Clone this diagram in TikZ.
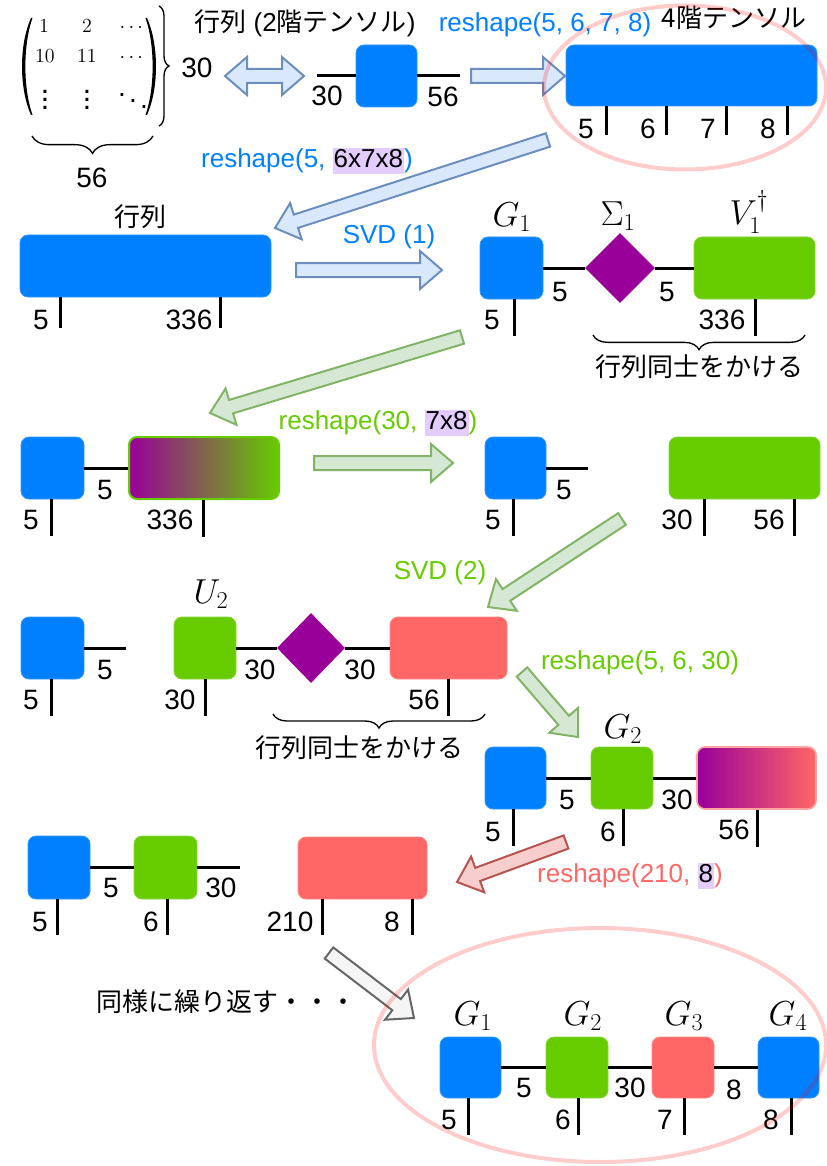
\RequirePackage{fix-cm}
\documentclass[tikz,border=0pt]{standalone}
\usepackage{amsmath}
\usepackage{graphicx}
\usepackage[no-math]{fontspec}
\setmainfont{Liberation Sans}
\newfontfamily\jp{Noto Sans CJK JP}
\usetikzlibrary{shapes.geometric,calc,decorations.pathreplacing}
\definecolor{cblue}{HTML}{007FFF}
\definecolor{cgreen}{HTML}{66CC00}
\definecolor{cred}{HTML}{FF6666}
\definecolor{cpur}{HTML}{990099}
\definecolor{lav}{HTML}{E5CCFF}
\definecolor{abf}{HTML}{DAE8FC}\definecolor{abd}{HTML}{6C8EBF}
\definecolor{agf}{HTML}{D5E8D4}\definecolor{agd}{HTML}{82B366}
\definecolor{arf}{HTML}{F8CECC}\definecolor{ard}{HTML}{B85450}
\definecolor{akf}{HTML}{F5F5F5}\definecolor{akd}{HTML}{666666}
\newcommand\hl[1]{{\setlength\fboxsep{0.8pt}\colorbox{lav}{\textcolor{black}{#1}\vphantom{()}}}}
% fat arrow: style, start, end
\newcommand\fatarrow[3]{%
  \coordinate (fa-b) at ($(#3)!16.5pt!(#2)$);
  \draw[#1] ($(#2)!5.25pt!90:(#3)$) -- ($(fa-b)!5.25pt!-90:(#2)$) -- ($(fa-b)!14.25pt!-90:(#2)$)
    -- (#3) -- ($(fa-b)!14.25pt!90:(#2)$) -- ($(fa-b)!5.25pt!90:(#2)$) -- ($(#2)!5.25pt!-90:(#3)$) -- cycle;}
\newcommand\fatdarrow[3]{%
  \coordinate (fa-b1) at ($(#2)!16.5pt!(#3)$);
  \coordinate (fa-b2) at ($(#3)!16.5pt!(#2)$);
  \draw[#1] (#2) -- ($(fa-b1)!14.25pt!90:(#3)$) -- ($(fa-b1)!5.25pt!90:(#3)$) -- ($(fa-b2)!5.25pt!-90:(#2)$)
    -- ($(fa-b2)!14.25pt!-90:(#2)$) -- (#3) -- ($(fa-b2)!14.25pt!90:(#2)$) -- ($(fa-b2)!5.25pt!90:(#2)$)
    -- ($(fa-b1)!5.25pt!-90:(#3)$) -- ($(fa-b1)!14.25pt!-90:(#3)$) -- cycle;}
\tikzset{
  rb/.style={rectangle, rounded corners=6pt, inner sep=0pt, draw=#1!80!white, line width=0.6pt, fill=#1},
  grad/.style 2 args={rectangle, rounded corners=6pt, inner sep=0pt, left color=#1, right color=#2},
  sz/.style 2 args={minimum width=#1*0.75pt, minimum height=#2*0.75pt},
  dia/.style={diamond, inner sep=0pt, fill=cpur},
  bond/.style={line width=2.25pt, black},
  num/.style={inner sep=0pt, font=\fontsize{21}{24}\selectfont},
  lbl/.style={inner sep=0pt, font=\fontsize{19.5}{23}\selectfont},
  jpl/.style={inner sep=0pt, font=\fontsize{19.5}{23}\selectfont\jp},
  mth/.style={inner sep=0pt, font=\fontsize{26}{30}\selectfont},
  mtx/.style={inner sep=0pt, anchor=base, font=\fontsize{15}{18}\selectfont},
  ring/.style={draw=red, draw opacity=0.2, line width=3pt},
  brc/.style={decorate, decoration={brace, amplitude=#1}, line width=1pt},
  brc/.default=8pt,
  ablue/.style={fill=abf, draw=abd, line width=1.5pt},
  agreen/.style={fill=agf, draw=agd, line width=1.5pt},
  ared/.style={fill=arf, draw=ard, line width=1.5pt},
  agray/.style={fill=akf, draw=akd, line width=1.5pt},
}
\begin{document}
\begin{tikzpicture}[x=0.75pt,y=-0.75pt]
\useasboundingbox (0,0) rectangle (827,1166);
% ---------- row 0: matrix
\fill (31,18) .. controls (19,45) and (19,88) .. (31,115) -- (32.5,115) .. controls (23,88) and (23,45) .. (32.5,18) -- cycle;
\fill (147,18) .. controls (159,45) and (159,88) .. (147,115) -- (145.5,115) .. controls (155,88) and (155,45) .. (145.5,18) -- cycle;
\node[mtx] (m11) at (44,33) {$1$};
\node[mtx] (m12) at (87,33) {$2$};
\node[mtx] (m13) at (133,33) {$\cdots$};
\node[mtx] (m21) at (45,63) {$10$};
\node[mtx] (m22) at (87,63) {$11$};
\node[mtx] (m23) at (133,63) {$\cdots$};
\node[mtx] (m31) at (45,110) {\scalebox{1.5}{$\vdots$}};
\node[mtx] (m32) at (87,110) {\scalebox{1.5}{$\vdots$}};
\node[mtx] (m33) at (133,110) {\scalebox{1.4}{$\ddots$}};
\draw[brc=7.5pt] (159,6) -- (159,126);
\draw[brc=13pt] (153,136) -- (32,136);
\node[num] (m30) at (197,68) {30};
\node[num] (m56) at (92,178) {56};
\node[inner sep=0pt, font=\fontsize{19.5}{23}\selectfont] (t1) at (305,23) {{\jp 行列} (2{\jp 階テンソル})};
\coordinate (da1) at (225,76); \coordinate (da2) at (304,76);
\fatdarrow{ablue}{da1}{da2}
\node[rb=cblue, sz={61}{62}] (b0) at (386.5,76) {};
\coordinate (b0l) at (317,76); \coordinate (b0r) at (460,76);
\draw[bond] (b0l) -- (b0); \draw[bond] (b0) -- (b0r);
\node[num] (b0n1) at (327,96) {30}; \node[num] (b0n2) at (443,97) {56};
\coordinate (a1s) at (471,76); \coordinate (a1e) at (565,76);
\fatarrow{ablue}{a1s}{a1e}
\node[lbl, text=cblue] (l1) at (545,25) {reshape(5, 6, 7, 8)};
\node[jpl] (t2) at (734,18) {4階テンソル};
\node[rb=cblue, sz={251}{61}] (B1) at (691.5,75.5) {};
\foreach \x/\t/\lx in {606/5/586, 666/6/648, 726/7/708, 787/8/768}{
  \draw[bond] (\x,0 |- B1.south) -- ++(0,29);
  \node[num] (B1n\t) at (\lx,129) {\t};}
% arrow 2
\coordinate (a2s) at (548,140); \coordinate (a2e) at (275,228);
\fatarrow{ablue}{a2s}{a2e}
\node[lbl, text=cblue] (l2) at (307,161) {reshape(5, \hl{6x7x8})};
% ---------- row 2
\node[jpl] (t3) at (140,217) {行列};
\node[rb=cblue, sz={251}{62}] (B2) at (145.5,266) {};
\draw[bond] (60,0 |- B2.south) -- ++(0,31);
\draw[bond] (220,0 |- B2.south) -- ++(0,31);
\node[num] (B2n1) at (41,320) {5}; \node[num] (B2n2) at (189,320) {336};
\coordinate (a3s) at (296,270); \coordinate (a3e) at (442,270);
\fatarrow{ablue}{a3s}{a3e}
\node[lbl, text=cblue] (l3) at (389,237) {SVD (1)};
\node[rb=cblue, sz={63}{62}] (G1) at (511.5,268) {};
\node[dia, minimum width=52.5pt, minimum height=52.5pt] (S1) at (620,268) {};
\node[rb=cgreen, sz={121}{62}] (V1) at (754.5,268) {};
\draw[bond] (G1) -- (S1); \draw[bond] (S1) -- (V1);
\node[mth] (G1t) at (512,217) {$G_1$};
\node[mth] (S1t) at (618,216) {$\Sigma_1$};
\node[mth] (V1t) at (749,212) {$V_1^{\dagger}$};
\node[num] (G1n) at (560,292) {5}; \node[num] (S1n) at (667,292) {5};
\draw[bond] (514,0 |- G1.south) -- ++(0,37);
\draw[bond] (755,0 |- V1.south) -- ++(0,37);
\node[num] (G1m) at (492,320) {5}; \node[num] (V1m) at (722,320) {336};
\draw[brc=11pt] (805,335) -- (593,335);
\node[jpl] (t4) at (699,367) {行列同士をかける};
% arrow 4
\coordinate (a4s) at (462,337); \coordinate (a4e) at (210,413);
\fatarrow{agreen}{a4s}{a4e}
% ---------- row 3
\node[rb=cblue, sz={63}{62}] (C1) at (52.5,468) {};
\node[grad={cpur}{cgreen}, draw=cgreen, line width=1.5pt, sz={150}{62}] (GR1) at (204,468) {};
\draw[bond] (C1) -- (GR1);
\node[num] (C1n) at (105,490) {5};
\draw[bond] (51,0 |- C1.south) -- ++(0,37);
\draw[bond] (203,0 |- GR1.south) -- ++(0,37);
\node[num] (C1m) at (31,520) {5}; \node[num] (GR1m) at (170,520) {336};
\coordinate (a5s) at (314,463); \coordinate (a5e) at (453,463);
\fatarrow{agreen}{a5s}{a5e}
\node[lbl, text=cgreen] (l5) at (378,423) {reshape(30, \hl{7x8})};
\node[rb=cblue, sz={61}{62}] (C2) at (515.5,468) {};
\coordinate (c2r) at (588,468);
\draw[bond] (C2) -- (c2r);
\node[num] (C2n) at (564,490) {5};
\draw[bond] (513,0 |- C2.south) -- ++(0,37);
\node[num] (C2m) at (493,520) {5};
\node[rb=cgreen, sz={151}{62}] (GB1) at (744.5,468) {};
\draw[bond] (704,0 |- GB1.south) -- ++(0,37);
\draw[bond] (794,0 |- GB1.south) -- ++(0,37);
\node[num] (GB1a) at (677,520) {30}; \node[num] (GB1b) at (769,520) {56};
% arrow 6
\coordinate (a6s) at (622,519); \coordinate (a6e) at (488,607);
\fatarrow{agreen}{a6s}{a6e}
\node[lbl, text=cgreen] (l6) at (440,573) {SVD (2)};
% ---------- row 4
\node[rb=cblue, sz={63}{62}] (D1) at (52.5,648) {};
\coordinate (d1r) at (126,648);
\draw[bond] (D1) -- (d1r);
\node[num] (D1n) at (105,670) {5};
\draw[bond] (51,0 |- D1.south) -- ++(0,37);
\node[num] (D1m) at (31,700) {5};
\node[rb=cgreen, sz={62}{62}] (U2) at (205,648) {};
\node[mth] (U2t) at (211,594) {$U_2$};
\node[dia, minimum width=51pt, minimum height=52.5pt] (S2) at (311,648) {};
\node[rb=cred, sz={117}{62}] (R1) at (448.5,648) {};
\draw[bond] (U2) -- (S2); \draw[bond] (S2) -- (R1);
\node[num] (U2n) at (260,670) {30}; \node[num] (S2n) at (360,670) {30};
\draw[bond] (205,0 |- U2.south) -- ++(0,37);
\draw[bond] (448,0 |- R1.south) -- ++(0,37);
\node[num] (U2m) at (180,700) {30}; \node[num] (R1m) at (424,700) {56};
\draw[brc=10.5pt] (485,714) -- (273,714);
\node[jpl] (t5) at (359,748) {行列同士をかける};
% arrow 7
\coordinate (a7s) at (522,672); \coordinate (a7e) at (578,737);
\fatarrow{agreen}{a7s}{a7e}
\node[lbl, text=cgreen] (l7) at (640,663) {reshape(5, 6, 30)};
% ---------- row 5
\node[mth] (G2t) at (623,729) {$G_2$};
\node[rb=cblue, sz={61}{62}] (E1) at (515.5,778) {};
\node[rb=cgreen, sz={62}{62}] (E2) at (622,778) {};
\node[grad={cpur}{cred}, draw=cred!60!white, line width=1.2pt, sz={119}{62}] (E3) at (756.5,778) {};
\draw[bond] (E1) -- (E2); \draw[bond] (E2) -- (E3);
\node[num] (E1n) at (567,800) {5}; \node[num] (E2n) at (677,800) {30};
\draw[bond] (513,0 |- E1.south) -- ++(0,37);
\draw[bond] (623,0 |- E2.south) -- ++(0,37);
\draw[bond] (757,0 |- E3.south) -- ++(0,37);
\node[num] (E1m) at (493,832) {5}; \node[num] (E2m) at (608,832) {6}; \node[num] (E3m) at (734,830) {56};
% arrow 8
\coordinate (a8s) at (566,842); \coordinate (a8e) at (457,882);
\fatarrow{ared}{a8s}{a8e}
\node[lbl, text=cred] (l8) at (630,876) {reshape(210, \hl{8})};
% ---------- row 6
\node[rb=cblue, sz={62}{63}] (F1) at (59,867.5) {};
\node[rb=cgreen, sz={63}{63}] (F2) at (165.5,867.5) {};
\draw[bond] (F1) -- (F2);
\coordinate (f2r) at (240,867.5);
\draw[bond] (F2) -- (f2r);
\node[num] (F1n) at (111,888) {5}; \node[num] (F2n) at (221,888) {30};
\draw[bond] (57,0 |- F1.south) -- ++(0,36);
\draw[bond] (167,0 |- F2.south) -- ++(0,36);
\node[num] (F1m) at (40,922) {5}; \node[num] (F2m) at (151,922) {6};
\node[rb=cred, sz={129}{62}] (F3) at (362.5,868) {};
\draw[bond] (322,0 |- F3.south) -- ++(0,36);
\draw[bond] (412,0 |- F3.south) -- ++(0,36);
\node[num] (F3a) at (290,922) {210}; \node[num] (F3b) at (392,922) {8};
% arrow 9
\coordinate (a9s) at (329,953); \coordinate (a9e) at (414,1018);
\fatarrow{agray}{a9s}{a9e}
\node[jpl] (t6) at (226,1002) {同様に繰り返す・・・};
% ---------- row 7
\node[rb=cblue, sz={61}{61}] (H1) at (470.5,1067.5) {};
\node[rb=cgreen, sz={62}{61}] (H2) at (577,1067.5) {};
\node[rb=cred, sz={62}{61}] (H3) at (683,1067.5) {};
\node[rb=cblue, sz={61}{61}] (H4) at (788.5,1067.5) {};
\draw[bond] (H1) -- (H2); \draw[bond] (H2) -- (H3); \draw[bond] (H3) -- (H4);
\node[num] (H1n) at (524,1088) {5}; \node[num] (H2n) at (630,1088) {30}; \node[num] (H3n) at (734,1090) {8};
\foreach \x/\t/\lx/\nm in {468/5/449/H1, 578/6/563/H2, 684/7/665/H3, 791/8/771/H4}{
  \draw[bond] (\x,0 |- \nm.south) -- ++(0,37);
  \node[num] (\nm m) at (\lx,1120) {\t};}
\node[mth] (H1t) at (473,1016) {$G_1$};
\node[mth] (H2t) at (583,1016) {$G_2$};
\node[mth] (H3t) at (684,1016) {$G_3$};
\node[mth] (H4t) at (788,1016) {$G_4$};
% ---------- rings
\draw[ring] (685,87.5) ellipse [x radius=105.75pt, y radius=61.5pt];
\draw[ring] (600,1045) ellipse [x radius=169.5pt, y radius=87.75pt];
\end{tikzpicture}
\end{document}
